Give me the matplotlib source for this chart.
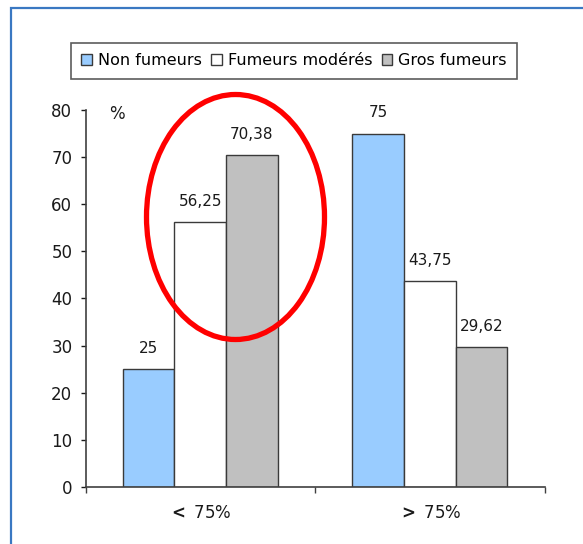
import matplotlib
matplotlib.use("Agg")
import matplotlib.pyplot as plt
import numpy as np
from matplotlib.patches import Ellipse, Patch, Rectangle
from matplotlib.ticker import FixedLocator

# Pourcentages par groupe d'observance
categories = [r"$\mathbf{<}$ 75%", r"$\mathbf{>}$ 75%"]
series_names = ["Non fumeurs", "Fumeurs modérés", "Gros fumeurs"]
non_fumeurs = [25, 75]
fumeurs_moderes = [56.25, 43.75]
gros_fumeurs = [70.38, 29.62]
y_ticks = [0, 10, 20, 30, 40, 50, 60, 70, 80]

colors = ["#99ccff", "#ffffff", "#c0c0c0"]
edge = "#3a3a3a"

plt.rcParams["font.family"] = ["DejaVu Sans"]
plt.rcParams["mathtext.fontset"] = "dejavusans"

fig = plt.figure(figsize=(5.83, 5.44), dpi=100)
ax = fig.add_axes([0.1467, 0.1048, 0.7873, 0.693])

x = np.arange(len(categories))
width = 0.2247
series = [non_fumeurs, fumeurs_moderes, gros_fumeurs]
for i, (vals, col) in enumerate(zip(series, colors)):
    bars = ax.bar(x + (i - 1) * width, vals, width, color=col,
                  edgecolor=edge, linewidth=1.0, zorder=2)
    for b, v in zip(bars, vals):
        txt = f"{v:g}".replace(".", ",")
        ax.annotate(txt, (b.get_x() + b.get_width() / 2, v),
                    xytext=(0, 9.5), textcoords="offset points",
                    ha="center", va="bottom", fontsize=11, color="#1a1a1a")

ax.set_xlim(-0.5, 1.5)
ax.set_ylim(0, 80)
ax.set_yticks(y_ticks)
ax.tick_params(axis="y", labelsize=12, length=3.5, width=1, pad=6,
               colors="#1a1a1a")

# boundaries get the tick marks, category centres carry the labels
ax.xaxis.set_major_locator(FixedLocator([-0.5, 0.5, 1.5]))
ax.set_xticklabels([])
ax.xaxis.set_minor_locator(FixedLocator(x))
ax.set_xticklabels(categories, minor=True)
ax.tick_params(axis="x", which="major", length=4.5, width=1, color="#404040")
ax.tick_params(axis="x", which="minor", length=0, labelsize=12, pad=12,
               labelcolor="#1a1a1a")

for side in ("top", "right"):
    ax.spines[side].set_visible(False)
for side in ("left", "bottom"):
    ax.spines[side].set_color("#404040")
    ax.spines[side].set_linewidth(1.2)

ax.text(0.069, 0.99, "%", transform=ax.transAxes, ha="center", va="center",
        fontsize=12, color="#1a1a1a")

handles = [Patch(facecolor=c, edgecolor=edge, linewidth=1.0) for c in colors]
leg = fig.legend(handles, series_names, loc="center",
                 bbox_to_anchor=(0.5043, 0.888), ncol=3, fontsize=11.5,
                 frameon=True, fancybox=False, handlelength=0.66,
                 handleheight=0.66, handletextpad=0.35, columnspacing=0.62,
                 borderpad=0.65, borderaxespad=0)
leg.get_frame().set_edgecolor("#333333")
leg.get_frame().set_linewidth(1.2)

# highlight on the first group
fig.patches.append(Ellipse((235.5 / 583, 1 - 217 / 544), 178 / 583, 245 / 544,
                           transform=fig.transFigure, fill=False,
                           edgecolor="#ff0000", linewidth=3.8, zorder=5))

# slide frame
fig.patches.append(Rectangle((11 / 583, -0.1), 1.2, 1 - 8 / 544 + 0.1,
                             transform=fig.transFigure, fill=False,
                             edgecolor="#3a78c2", linewidth=1.6, zorder=0))

fig.savefig("out.png", dpi=100)
